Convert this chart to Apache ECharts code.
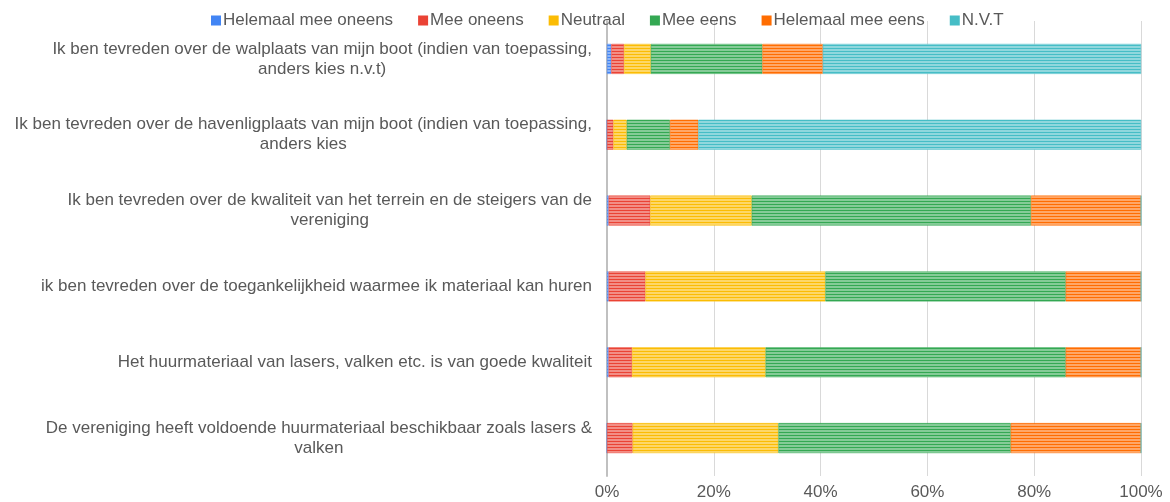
<!DOCTYPE html>
<html>
<head>
<meta charset="utf-8">
<script src="https://cdn.jsdelivr.net/npm/echarts@6/dist/echarts.min.js"></script>
<style>
  * { margin: 0; padding: 0; }
  body { background: #fff; }
  #chart { width: 1170px; height: 502px; }
</style>
</head>
<body>
<div id="chart"></div>
<script>
// vragen, van boven naar beneden
const categories = [
  "Ik ben tevreden over de walplaats van mijn boot (indien van toepassing,\nanders kies n.v.t)",
  "Ik ben tevreden over de havenligplaats van mijn boot (indien van toepassing,\nanders kies",
  "Ik ben tevreden over de kwaliteit van het terrein en de steigers van de\nvereniging",
  "ik ben tevreden over de toegankelijkheid waarmee ik materiaal kan huren",
  "Het huurmateriaal van lasers, valken etc. is van goede kwaliteit",
  "De vereniging heeft voldoende huurmateriaal beschikbaar zoals lasers &\nvalken"
];
const seriesNames = ["Helemaal mee oneens", "Mee oneens", "Neutraal", "Mee eens", "Helemaal mee eens", "N.V.T"];
// percentages per vraag
const helemaalOneens = [0.8, 0, 0.3, 0.3, 0.3, 0];
const meeOneens = [2.4, 1.2, 7.8, 6.9, 4.4, 4.8];
const neutraal = [5.0, 2.5, 19.0, 33.7, 25.0, 27.3];
const meeEens = [20.9, 8.1, 52.3, 45.0, 56.2, 43.5];
const helemaalEens = [11.3, 5.3, 20.6, 14.1, 14.1, 24.4];
const nvt = [59.6, 82.9, 0, 0, 0, 0];
const xTicks = [0, 20, 40, 60, 80, 100];

const colors = ["#4285f4", "#ea4335", "#fbbc04", "#34a853", "#ff6d01", "#46bdc6"];
const allData = [helemaalOneens, meeOneens, neutraal, meeEens, helemaalEens, nvt];

function lighten(hex, f) {
  const n = parseInt(hex.slice(1), 16);
  const r = (n >> 16) & 255, g = (n >> 8) & 255, b = n & 255;
  const m = c => Math.round(c + (255 - c) * f);
  return "rgb(" + m(r) + "," + m(g) + "," + m(b) + ")";
}

// streepjespatroon zoals in het origineel
function stripes(hex) {
  const c = document.createElement("canvas");
  c.width = 4; c.height = 3;
  const ctx = c.getContext("2d");
  ctx.fillStyle = lighten(hex, 0.4);
  ctx.fillRect(0, 0, 4, 3);
  ctx.fillStyle = hex;
  ctx.fillRect(0, 0, 4, 1);
  return { image: c, repeat: "repeat" };
}

const chart = echarts.init(document.getElementById("chart"));
const option = {
  animation: false,
  textStyle: { fontFamily: "Liberation Sans, Arial, sans-serif" },
  legend: {
    top: 7,
    left: 206,
    itemWidth: 8,
    itemHeight: 8,
    itemGap: 25,
    icon: "rect",
    textStyle: { fontSize: 17, color: "#595959", padding: [0, 0, 0, -2] },
    data: seriesNames.map((n, i) => ({ name: n, itemStyle: { color: colors[i] } }))
  },
  grid: { left: 607, right: 29, top: 21, bottom: 26 },
  xAxis: {
    type: "value",
    min: 0,
    max: 100,
    interval: 20,
    axisLabel: {
      fontSize: 17,
      color: "#595959",
      margin: 8,
      formatter: v => (xTicks.includes(v) ? v + "%" : "")
    },
    splitLine: { lineStyle: { color: "#d9d9d9", width: 1 } },
    axisLine: { show: false },
    axisTick: { show: false }
  },
  yAxis: {
    type: "category",
    inverse: true,
    data: categories,
    axisLine: { show: true, lineStyle: { color: "#c0c0c0", width: 2 } },
    axisTick: { show: false },
    axisLabel: {
      margin: 15,
      fontSize: 17,
      color: "#595959",
      lineHeight: 20,
      formatter: v => v.split("\n").map(l => "{c|" + l + "}").join("\n"),
      rich: { c: { align: "center", fontSize: 17, color: "#595959", lineHeight: 20 } }
    }
  },
  series: seriesNames.map((n, i) => ({
    name: n,
    type: "bar",
    stack: "total",
    barWidth: 30,
    data: allData[i],
    itemStyle: { color: stripes(colors[i]), borderColor: colors[i], borderWidth: 0.5 }
  }))
};
chart.setOption(option);
window.addEventListener("resize", function () {
  chart.resize();
});
</script>
</body>
</html>
